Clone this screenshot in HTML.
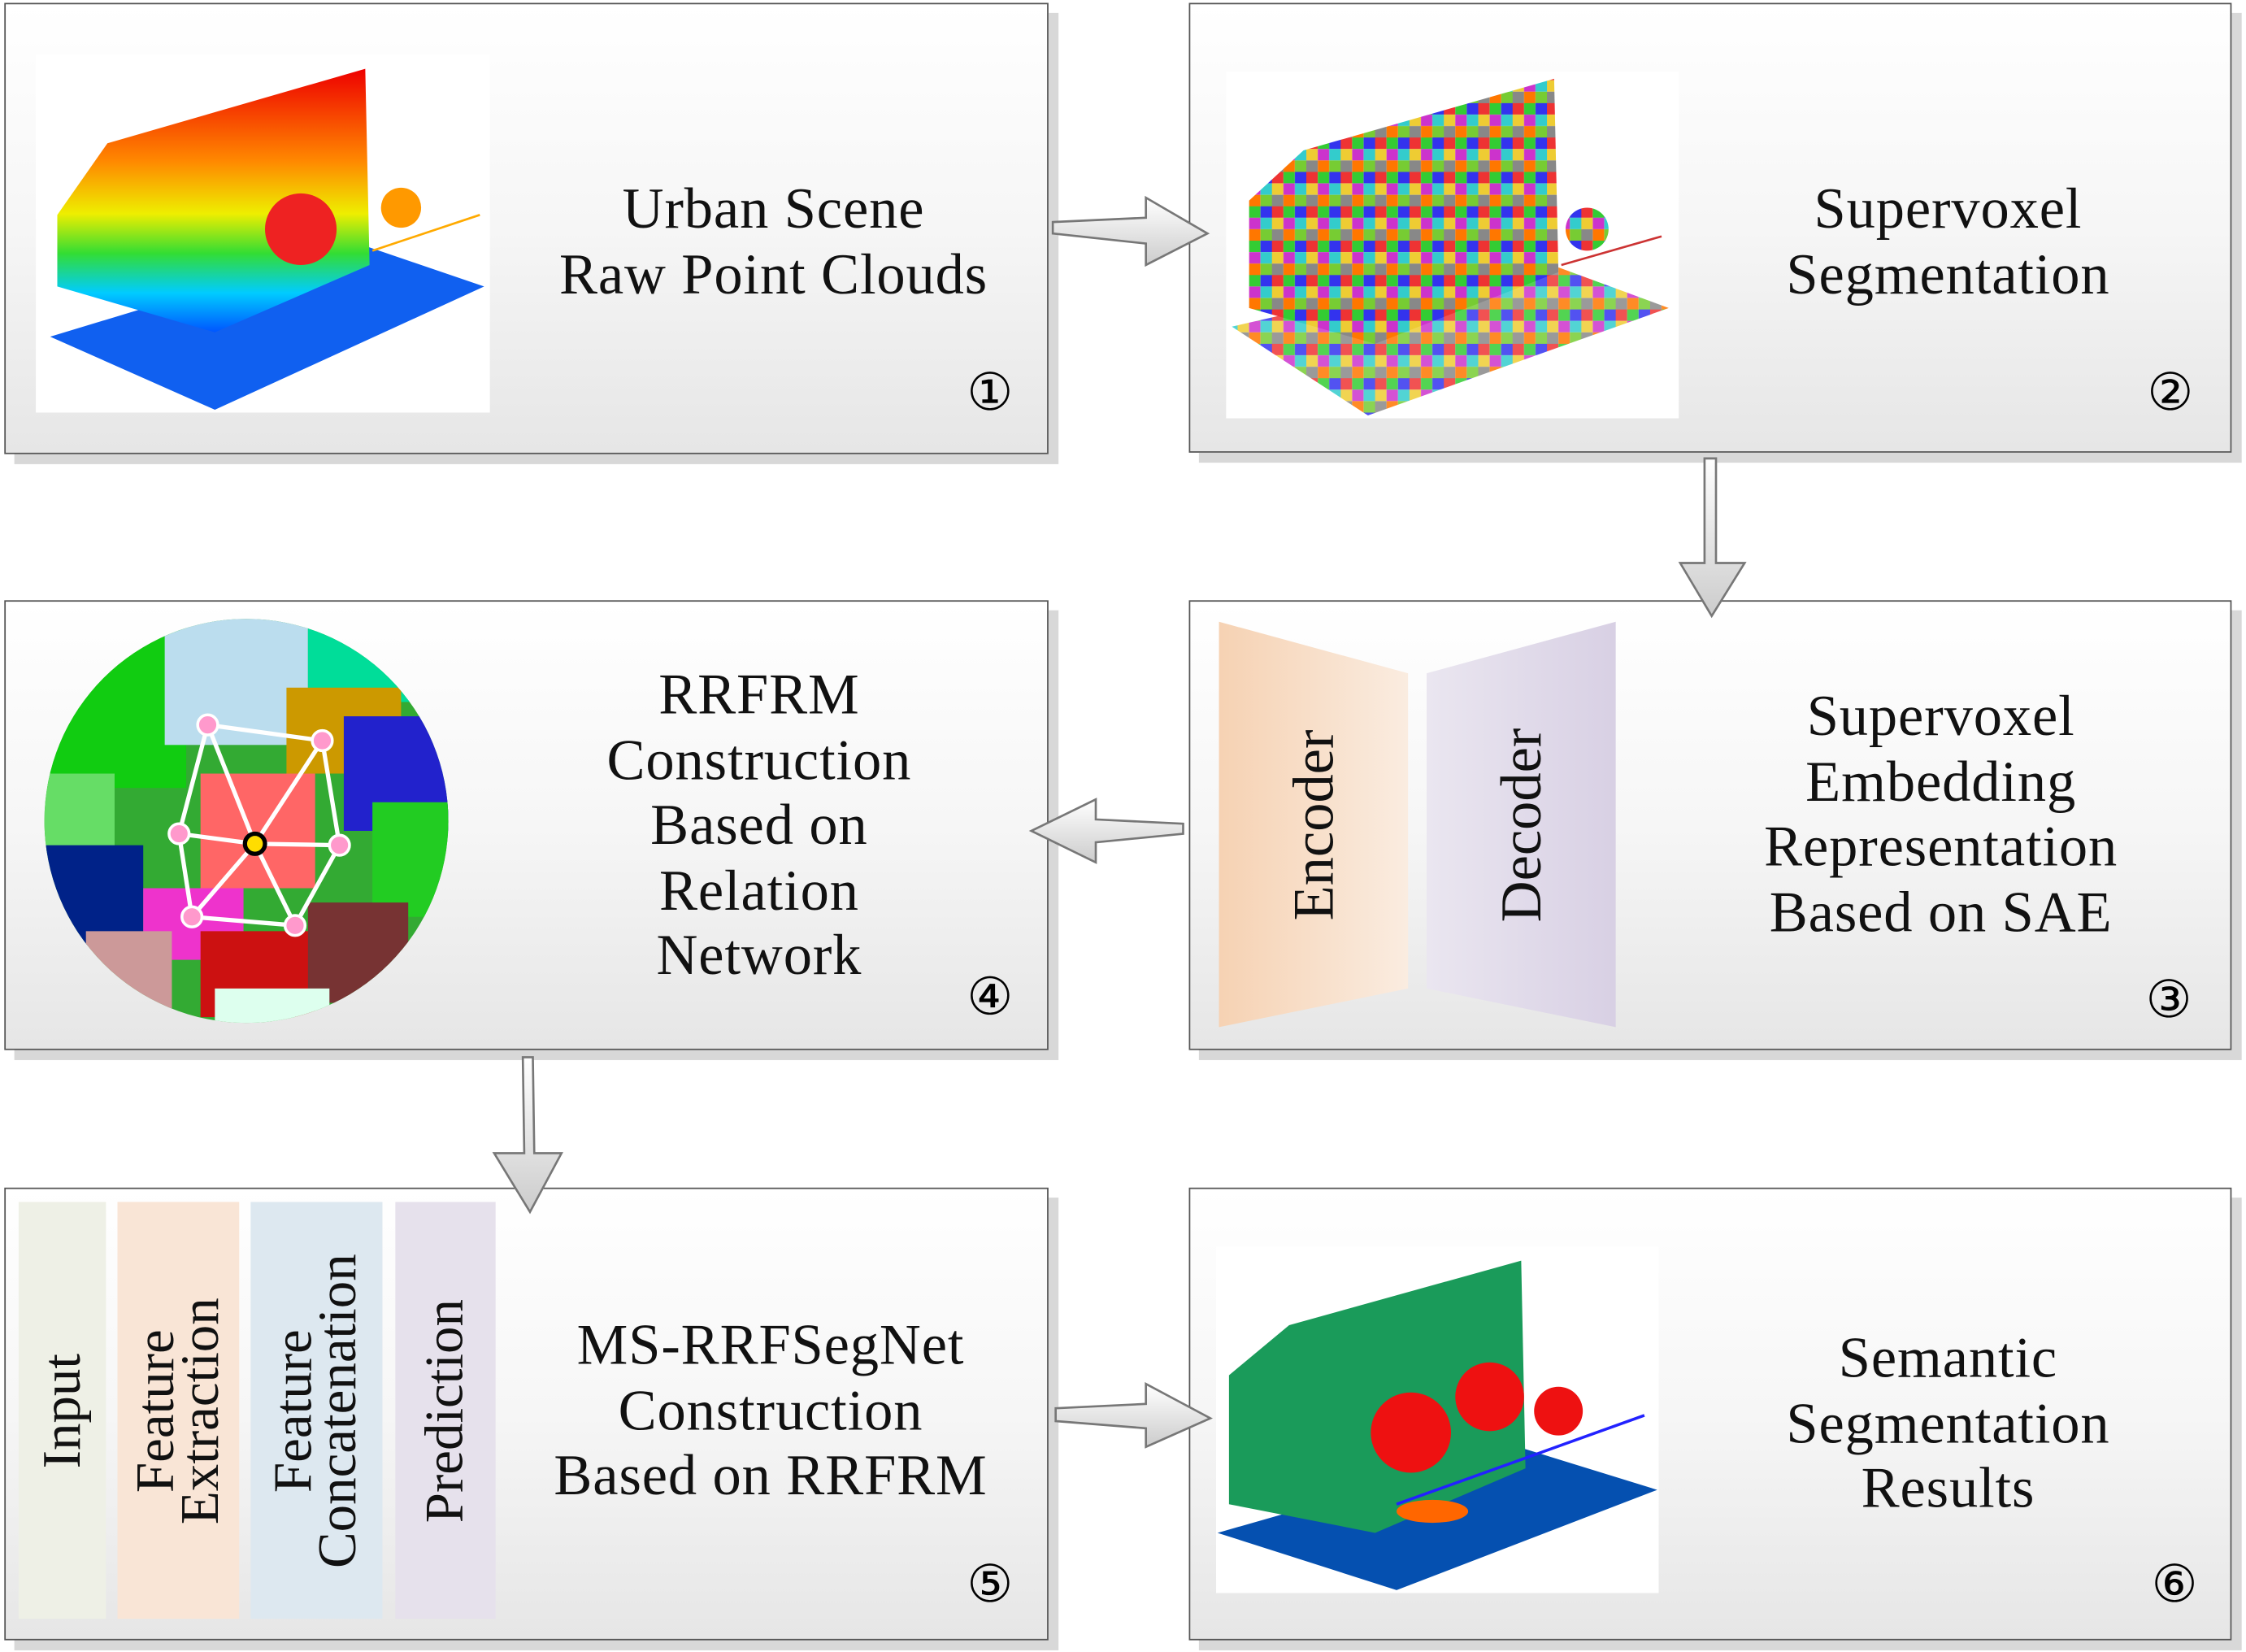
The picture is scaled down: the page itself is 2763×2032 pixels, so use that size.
<!DOCTYPE html>
<html><head><meta charset="utf-8"><style>
html,body{margin:0;padding:0;background:#fff;}
body{width:2763px;height:2031px;overflow:hidden;position:relative;}
#w{position:absolute;left:0;top:0;width:1568px;height:1153px;transform:scale(1.7621);transform-origin:0 0;font-family:"Liberation Serif","DejaVu Serif",serif;}
.b{position:absolute;border:1.5px solid #555;background:linear-gradient(#ffffff 0%,#f6f6f6 50%,#e6e6e6 100%);box-shadow:7px 7px 0 #d8d8d8;box-sizing:border-box;}
.t{position:absolute;text-align:center;font-size:40px;letter-spacing:0.5px;line-height:45.5px;color:#111;}
.n{position:absolute;font-size:36px;line-height:36px;color:#000;}
.col{position:absolute;top:839px;height:291px;}
.rt{position:absolute;left:50%;top:50%;white-space:nowrap;transform:translate(-50%,-50%) rotate(-90deg);font-size:38px;line-height:31px;text-align:center;color:#111;}
.big{font-size:40px;}
svg{position:absolute;left:0;top:0;}
</style></head><body><div id="w">
<div class="b" style="left:3px;top:2px;width:729px;height:315px"></div>
<div class="b" style="left:830px;top:2px;width:728px;height:314px"></div>
<div class="b" style="left:830px;top:419px;width:728px;height:314px"></div>
<div class="b" style="left:3px;top:419px;width:729px;height:314px"></div>
<div class="b" style="left:3px;top:829px;width:729px;height:316px"></div>
<div class="b" style="left:830px;top:829px;width:728px;height:316px"></div>

<svg width="1568" height="1153" viewBox="0 0 1568 1153">
<defs>
<linearGradient id="rb" x1="0" y1="0" x2="0" y2="1">
<stop offset="0" stop-color="#e00"/><stop offset="0.35" stop-color="#f80"/><stop offset="0.55" stop-color="#ee0"/><stop offset="0.7" stop-color="#3d3"/><stop offset="0.85" stop-color="#0cf"/><stop offset="1" stop-color="#05f"/></linearGradient>
<linearGradient id="ag" x1="0" y1="0" x2="0" y2="1"><stop offset="0" stop-color="#fff"/><stop offset="1" stop-color="#ccc"/></linearGradient>
<linearGradient id="enc" x1="0" y1="0" x2="1" y2="0"><stop offset="0" stop-color="#f6d2b3"/><stop offset="1" stop-color="#faece0"/></linearGradient>
<linearGradient id="dec" x1="0" y1="0" x2="1" y2="0"><stop offset="0" stop-color="#eae6f0"/><stop offset="1" stop-color="#d8d0e4"/></linearGradient>
<pattern id="sv" width="24" height="24" patternUnits="userSpaceOnUse">
<rect width="8" height="8" fill="#e33"/><rect x="8" width="8" height="8" fill="#3c3"/><rect x="16" width="8" height="8" fill="#33e"/>
<rect y="8" width="8" height="8" fill="#ec3"/><rect x="8" y="8" width="8" height="8" fill="#c3c"/><rect x="16" y="8" width="8" height="8" fill="#3cc"/>
<rect y="16" width="8" height="8" fill="#888"/><rect x="8" y="16" width="8" height="8" fill="#f70"/><rect x="16" y="16" width="8" height="8" fill="#7c3"/></pattern>
<clipPath id="cc"><circle cx="172" cy="573" r="141"/></clipPath>
</defs>
<rect x="25" y="38" width="317" height="250" fill="#fff"/>
<polygon points="35,235 150,286 338,200 250,170" fill="#1060f0"/>
<polygon points="40,150 75,100 255,48 258,185 150,232 40,200" fill="url(#rb)"/>
<circle cx="210" cy="160" r="25" fill="#e22"/><circle cx="280" cy="145" r="14" fill="#f90"/>
<line x1="260" y1="175" x2="335" y2="150" stroke="#fa0" stroke-width="1.5"/>
<rect x="856" y="50" width="316" height="242" fill="#fff"/>
<polygon points="860,228 955,290 1165,215 1070,180" fill="url(#sv)" opacity="0.85"/>
<polygon points="872,140 910,105 1085,55 1088,190 960,240 872,215" fill="url(#sv)"/>
<circle cx="1108" cy="160" r="15" fill="url(#sv)"/>
<line x1="1090" y1="185" x2="1160" y2="165" stroke="#c33" stroke-width="1.5"/>
<rect x="849" y="870" width="309" height="242" fill="#fff"/>
<polygon points="850,1070 975,1110 1157,1040 1060,1010" fill="#0550b0"/>
<polygon points="858,960 900,925 1062,880 1065,1025 960,1070 858,1050" fill="#1a9b5a"/>
<circle cx="985" cy="1000" r="28" fill="#e11"/><circle cx="1040" cy="975" r="24" fill="#e11"/><circle cx="1088" cy="985" r="17" fill="#e11"/>
<line x1="975" y1="1050" x2="1148" y2="988" stroke="#22f" stroke-width="2"/>
<ellipse cx="1000" cy="1055" rx="25" ry="8" fill="#f60"/>
<g clip-path="url(#cc)">
<rect x="30" y="430" width="290" height="290" fill="#3a3"/>
<rect x="30" y="430" width="100" height="120" fill="#1c1"/>
<rect x="115" y="430" width="100" height="90" fill="#bde"/>
<rect x="215" y="430" width="110" height="60" fill="#0d9"/>
<rect x="200" y="480" width="80" height="60" fill="#c90"/>
<rect x="240" y="500" width="80" height="80" fill="#22c"/>
<rect x="260" y="560" width="70" height="80" fill="#2c2"/>
<rect x="30" y="540" width="50" height="60" fill="#6d6"/>
<rect x="30" y="590" width="70" height="70" fill="#028"/>
<rect x="140" y="540" width="80" height="80" fill="#f66"/>
<rect x="100" y="620" width="70" height="50" fill="#e3c"/>
<rect x="140" y="650" width="80" height="60" fill="#c11"/>
<rect x="215" y="630" width="70" height="70" fill="#733"/>
<rect x="60" y="650" width="60" height="60" fill="#c99"/>
<rect x="150" y="690" width="80" height="40" fill="#dfe"/>
</g>
<g stroke="#fff" stroke-width="3" fill="none">
<polygon points="145,506 225,517 237,590 206,646 134,640 125,582"/>
<line x1="178" y1="589" x2="145" y2="506"/><line x1="178" y1="589" x2="225" y2="517"/><line x1="178" y1="589" x2="237" y2="590"/>
<line x1="178" y1="589" x2="206" y2="646"/><line x1="178" y1="589" x2="134" y2="640"/><line x1="178" y1="589" x2="125" y2="582"/>
</g>
<g fill="#f9c" stroke="#fff" stroke-width="2">
<circle cx="145" cy="506" r="7"/><circle cx="225" cy="517" r="7"/><circle cx="237" cy="590" r="7"/><circle cx="206" cy="646" r="7"/><circle cx="134" cy="640" r="7"/><circle cx="125" cy="582" r="7"/></g>
<circle cx="178" cy="589" r="7" fill="#fd0" stroke="#000" stroke-width="3"/>
<polygon points="851,434 983,470 983,690 851,717" fill="url(#enc)"/>
<polygon points="996,470 1128,434 1128,717 996,690" fill="url(#dec)"/>
<g fill="url(#ag)" stroke="#777" stroke-width="1.5">
<polygon points="735,155 800,152 800,138 843,163 800,185 800,170 735,163"/>
<polygon points="1190,320 1198,320 1198,393 1218,393 1195,430 1173,393 1190,393"/>
<polygon points="826,575 765,572 765,558 720,580 765,602 765,588 826,582"/>
<polygon points="365,738 372,738 373,805 392,805 370,846 345,805 366,805"/>
<polygon points="737,983 800,980 800,966 845,990 800,1010 800,997 737,992"/>
</g>
</svg>

<div class="t" style="left:320px;top:123px;width:440px">Urban Scene<br>Raw Point Clouds</div>
<div class="t" style="left:1150px;top:123px;width:420px">Supervoxel<br>Segmentation</div>
<div class="t" style="left:1145px;top:477px;width:420px">Supervoxel<br>Embedding<br>Representation<br>Based on SAE</div>
<div class="t" style="left:320px;top:462px;width:420px">RRFRM<br>Construction<br>Based on<br>Relation<br>Network</div>
<div class="t" style="left:318px;top:916px;width:440px">MS-RRFSegNet<br>Construction<br>Based on RRFRM</div>
<div class="t" style="left:1150px;top:925px;width:420px">Semantic<br>Segmentation<br>Results</div>

<div style="position:absolute;left:851px;top:434px;width:132px;height:283px"><div class="rt big">Encoder</div></div>
<div style="position:absolute;left:996px;top:434px;width:132px;height:283px"><div class="rt big">Decoder</div></div>

<div class="col" style="left:13px;width:61px;background:#eef0e6"><div class="rt">Input</div></div>
<div class="col" style="left:82px;width:85px;background:#f9e5d6"><div class="rt">Feature<br>Extraction</div></div>
<div class="col" style="left:175px;width:92px;background:#dde8f0"><div class="rt">Feature<br>Concatenation</div></div>
<div class="col" style="left:276px;width:70px;background:#e6e1ec"><div class="rt">Prediction</div></div>

<div class="n" style="left:675px;top:256px">①</div>
<div class="n" style="left:1499px;top:256px">②</div>
<div class="n" style="left:1498px;top:680px">③</div>
<div class="n" style="left:675px;top:678px">④</div>
<div class="n" style="left:675px;top:1088px">⑤</div>
<div class="n" style="left:1502px;top:1088px">⑥</div>
</div></body></html>
